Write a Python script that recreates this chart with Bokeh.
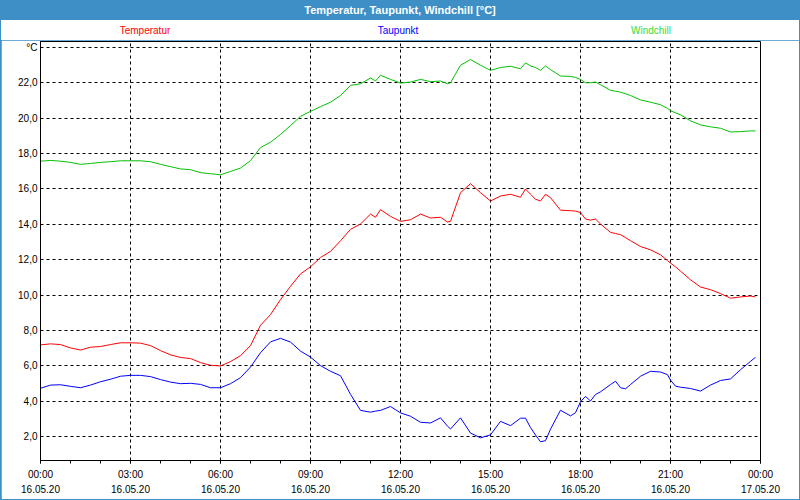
from bokeh.plotting import figure
from bokeh.models import Range1d, FixedTicker, Div, ColumnDataSource
from bokeh.layouts import column
from bokeh.embed import file_html
from bokeh.resources import INLINE

# ---------------- data ----------------
minutes = [0, 20, 40, 60, 80, 100, 120, 140, 160, 180, 200, 220, 240, 260, 280, 300,
           320, 340, 360, 380, 400, 420, 440, 460, 480, 500, 520, 540, 560, 580, 600,
           620, 640, 660, 670, 680, 700, 720, 740, 760, 780, 800, 814, 820, 840, 860,
           880, 900, 920, 940, 960, 970, 980, 990, 1000, 1010, 1020, 1040, 1060, 1070,
           1080, 1090, 1100, 1110, 1120, 1140, 1150, 1160, 1170, 1180, 1200, 1220, 1240,
           1254, 1260, 1270, 1280, 1300, 1320, 1340, 1360, 1380, 1400, 1420, 1430]

temperatur = [7.19, 7.25, 7.21, 7.02, 6.90, 7.06, 7.10, 7.21, 7.31, 7.31, 7.29, 7.15,
              6.87, 6.63, 6.48, 6.42, 6.19, 6.04, 6.00, 6.25, 6.58, 7.15, 8.30, 8.90,
              9.75, 10.50, 11.20, 11.60, 12.13, 12.47, 13.07, 13.72, 14.02, 14.58,
              14.40, 14.83, 14.45, 14.17, 14.26, 14.58, 14.36, 14.40, 14.13, 14.17,
              15.79, 16.30, 15.79, 15.32, 15.60, 15.70, 15.53, 16.00, 15.70, 15.42,
              15.32, 15.70, 15.51, 14.80, 14.77, 14.75, 14.67, 14.30, 14.24, 14.30,
              14.02, 13.55, 13.48, 13.42, 13.25, 13.08, 12.75, 12.56, 12.28, 11.95,
              11.81, 11.60, 11.36, 10.87, 10.46, 10.31, 10.09, 9.83, 9.90, 9.95, 9.90]

taupunkt = [4.74, 4.92, 4.94, 4.85, 4.77, 4.92, 5.11, 5.25, 5.42, 5.47, 5.47, 5.40,
            5.23, 5.09, 5.00, 5.02, 4.96, 4.77, 4.77, 5.00, 5.34, 5.94, 6.75, 7.36,
            7.56, 7.35, 6.84, 6.50, 6.02, 5.70, 5.45, 4.40, 3.49, 3.39,
            3.45, 3.49, 3.71, 3.35, 3.16, 2.82, 2.78, 3.07, 2.60, 2.44, 3.07, 2.21,
            1.94, 2.11, 2.87, 2.63, 3.05, 3.05, 2.52, 2.10, 1.72, 1.78, 2.43, 3.50,
            3.18, 3.36, 3.98, 4.28, 4.02, 4.39, 4.54, 4.95, 5.14, 4.77, 4.71, 4.95,
            5.42, 5.70, 5.66, 5.51, 5.20, 4.86, 4.80, 4.73, 4.58, 4.92, 5.18, 5.27,
            5.79, 6.26, 6.49]

windchill = [17.57, 17.61, 17.57, 17.50, 17.39, 17.44, 17.50, 17.54, 17.59, 17.59,
             17.59, 17.54, 17.39, 17.26, 17.13, 17.09, 16.92, 16.86, 16.80, 16.99,
             17.18, 17.60, 18.34, 18.64, 19.08, 19.58, 20.10, 20.38, 20.65, 20.90,
             21.28, 21.85, 21.94, 22.27,
             22.10, 22.42, 22.19, 21.98, 22.04, 22.19, 22.06, 22.10, 21.94, 22.00,
             22.99, 23.31, 22.99, 22.70, 22.86, 22.93, 22.79, 23.12, 22.95, 22.86,
             22.70, 22.95, 22.74, 22.38, 22.36, 22.30, 22.19, 22.00, 22.00, 22.04,
             21.89, 21.57, 21.52, 21.47, 21.38, 21.28, 21.03, 20.90, 20.76, 20.55,
             20.42, 20.30, 20.19, 19.85, 19.62, 19.51, 19.43, 19.22, 19.24, 19.28, 19.28]

series_names = ["Temperatur", "Taupunkt", "Windchill"]
x_tick_hours = [0, 3, 6, 9, 12, 15, 18, 21, 24]
x_tick_labels = ["00:00\n16.05.20", "03:00\n16.05.20", "06:00\n16.05.20",
                 "09:00\n16.05.20", "12:00\n16.05.20", "15:00\n16.05.20",
                 "18:00\n16.05.20", "21:00\n16.05.20", "00:00\n17.05.20"]
y_ticks = [2, 4, 6, 8, 10, 12, 14, 16, 18, 20, 22, 24]
y_tick_labels = ["2,0", "4,0", "6,0", "8,0", "10,0", "12,0", "14,0", "16,0",
                 "18,0", "20,0", "22,0", "°C"]
chart_title = "Temperatur, Taupunkt, Windchill [°C]"

# ---------------- styling ----------------
BLUE = "#3d8fc6"
FONT = "Liberation Sans"
colors = ["#ff0000", "#0000ff", "#00c000"]
legend_colors = ["#ff0000", "#0000ff", "#33dd33"]
legend_centers = [144, 397, 650]   # px inside the legend row

hours = [m / 60.0 for m in minutes]
src = ColumnDataSource(dict(h=hours, t=temperatur, d=taupunkt, w=windchill))

p = figure(width=798, height=459, margin=(0, 1, 1, 1),
           output_backend="svg", toolbar_location=None,
           x_range=Range1d(0, 24), y_range=Range1d(0.66, 24.33),
           min_border_left=39, min_border_right=39,
           min_border_top=1, min_border_bottom=39,
           background_fill_color="white", border_fill_color="white")

p.outline_line_color = "black"
p.outline_line_alpha = 1.0
p.outline_line_width = 1

for col, c in zip(["t", "d", "w"], colors):
    p.line("h", col, source=src, line_color=c, line_width=1)

# axes
p.xaxis.ticker = FixedTicker(ticks=x_tick_hours, minor_ticks=list(range(25)))
p.xaxis.major_label_overrides = {h: lab for h, lab in zip(x_tick_hours, x_tick_labels)}
p.xaxis.major_tick_out = 3
p.xaxis.major_tick_in = 0
p.xaxis.minor_tick_out = 3
p.xaxis.minor_tick_in = 0
p.xaxis.major_label_standoff = 5
p.xaxis.major_label_text_font = FONT
p.xaxis.major_label_text_font_size = "10px"
p.xaxis.major_label_text_line_height = 1.45
p.xaxis.major_label_text_color = "black"
p.xaxis.axis_line_color = "black"
p.xaxis.major_tick_line_color = "black"
p.xaxis.minor_tick_line_color = "black"

p.yaxis.ticker = FixedTicker(ticks=y_ticks, minor_ticks=[])
p.yaxis.major_label_overrides = {v: lab for v, lab in zip(y_ticks, y_tick_labels)}
p.yaxis.major_tick_out = 0
p.yaxis.major_tick_in = 0
p.yaxis.major_label_standoff = 3
p.yaxis.major_label_text_font = FONT
p.yaxis.major_label_text_font_size = "10px"
p.yaxis.major_label_text_color = "black"
p.yaxis.axis_line_color = "black"

# grids
p.xgrid.ticker = FixedTicker(ticks=x_tick_hours[1:-1])
p.ygrid.ticker = FixedTicker(ticks=y_ticks)
for g in (p.xgrid, p.ygrid):
    g.grid_line_color = "black"
    g.grid_line_dash = "3 3"
    g.grid_line_width = 1
    g.grid_line_alpha = 1.0

title_div = Div(text=chart_title, width=800, height=20, margin=(0, 0, 0, 0),
                styles={"background-color": BLUE, "color": "white",
                        "font-family": FONT, "font-weight": "bold",
                        "font-size": "11px", "text-align": "center",
                        "line-height": "20px", "overflow": "hidden"})

spans = "".join(
    f'<span style="position:absolute;left:{cx}px;top:0;transform:translateX(-50%);'
    f'color:{c};white-space:nowrap;">{name}</span>'
    for name, c, cx in zip(series_names, legend_colors, legend_centers))
legend_div = Div(text=f'<div style="position:relative;width:798px;height:20px;">{spans}</div>',
                 width=798, height=20, margin=(0, 1, 0, 1),
                 styles={"background-color": "white", "font-family": FONT,
                         "font-size": "10px", "line-height": "22px",
                         "overflow": "hidden"})

layout = column(title_div, legend_div, p, spacing=0,
                styles={"background-color": BLUE})

open("out.html", "w").write(file_html(layout, INLINE))
